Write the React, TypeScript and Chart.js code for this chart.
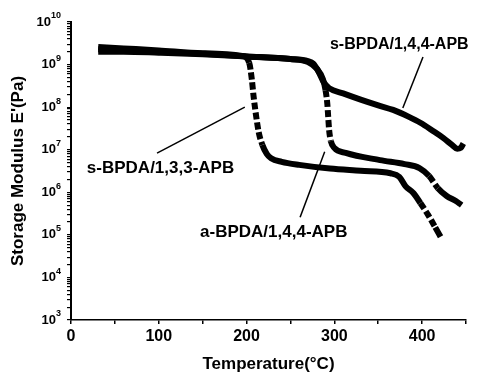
import { useEffect, useRef } from "react";
import { Chart, registerables } from "chart.js";

Chart.register(...registerables);

// s-BPDA/1,3,3-APB
const temps133 = [31, 60, 100, 150, 195, 203, 206, 208, 211, 214, 218, 223, 228, 240, 260, 295, 330, 364, 374, 381, 390, 398, 407, 415, 421];
const modulus133 = [2.6e9, 2.4e9, 2.15e9, 1.85e9, 1.6e9, 1.1e9, 4.5e8, 1.8e8, 6e7, 2.5e7, 1.3e7, 8e6, 6.3e6, 5.2e6, 4.4e6, 3.6e6, 3.2e6, 2.8e6, 2.3e6, 1.4e6, 9.6e5, 5.6e5, 2.9e5, 1.5e5, 9e4];

// a-BPDA/1,4,4-APB
const temps144a = [31, 60, 100, 150, 200, 250, 270, 280, 287, 290, 292, 293, 294, 296, 300, 313, 352, 380, 397, 408, 418, 428, 438, 445];
const modulus144a = [2.3e9, 2.2e9, 2.0e9, 1.8e9, 1.55e9, 1.35e9, 1.15e9, 8e8, 4.5e8, 2.5e8, 1.2e8, 6e7, 3e7, 1.6e7, 1.1e7, 8.4e6, 5.7e6, 4.6e6, 3.7e6, 2.4e6, 1.25e6, 8.2e5, 6.3e5, 5e5];

// s-BPDA/1,4,4-APB
const temps144s = [31, 60, 100, 150, 200, 250, 270, 276, 282, 288, 294, 310, 330, 350, 367, 385, 398, 412, 424, 434, 440, 444, 447];
const modulus144s = [2.0e9, 2.0e9, 1.9e9, 1.75e9, 1.55e9, 1.35e9, 1.2e9, 1.05e9, 6.8e8, 3.8e8, 2.8e8, 2.1e8, 1.5e8, 1.1e8, 8.6e7, 5.9e7, 4.3e7, 2.8e7, 1.9e7, 1.3e7, 1.05e7, 1.1e7, 1.4e7];

const xTickValues = [0, 50, 100, 150, 200, 250, 300, 350, 400, 450];
const xLabelValues = [0, 100, 200, 300, 400];
const yExponents = [3, 4, 5, 6, 7, 8, 9, 10];

const seriesNames = ["s-BPDA/1,3,3-APB", "a-BPDA/1,4,4-APB", "s-BPDA/1,4,4-APB"];

// annotation labels (data coordinates)
const annotations = [
  { text: "s-BPDA/1,4,4-APB", x: 374, y: 2.9e9, size: 16, from: [401, 1.5e9], to: [378, 9.5e7] },
  { text: "s-BPDA/1,3,3-APB", x: 102, y: 3.7e6, size: 17, from: [98, 8.3e6], to: [198, 1e8] },
  { text: "a-BPDA/1,4,4-APB", x: 231, y: 1.17e5, size: 17, from: [261, 2.6e5], to: [289, 9e6] },
];

const FONT = "'Liberation Sans', Arial, Helvetica, sans-serif";

function toPoints(xs: number[], ys: number[]) {
  return xs.map((x, i) => ({ x, y: ys[i] }));
}

export default function App() {
  const canvasRef = useRef<HTMLCanvasElement | null>(null);

  useEffect(() => {
    if (!canvasRef.current) return;

    const labelPlugin = {
      id: "customLabels",
      afterDraw(chart: any) {
        const { ctx, chartArea } = chart;
        const xs = chart.scales.x;
        const ys = chart.scales.y;
        ctx.save();
        ctx.fillStyle = "#000";
        // y tick labels 10^n
        for (const e of yExponents) {
          const py = ys.getPixelForValue(Math.pow(10, e));
          ctx.font = `bold 9px ${FONT}`;
          const expText = String(e);
          const w2 = ctx.measureText(expText).width;
          ctx.font = `bold 13px ${FONT}`;
          const w1 = ctx.measureText("10").width;
          const right = chartArea.left - 10;
          ctx.textBaseline = "middle";
          ctx.textAlign = "left";
          ctx.fillText("10", right - w2 - w1, py);
          ctx.font = `bold 9px ${FONT}`;
          ctx.fillText(expText, right - w2, py - 6);
        }
        // annotations
        ctx.strokeStyle = "#000";
        ctx.lineWidth = 1.5;
        for (const a of annotations) {
          ctx.beginPath();
          ctx.moveTo(xs.getPixelForValue(a.from[0]), ys.getPixelForValue(a.from[1]));
          ctx.lineTo(xs.getPixelForValue(a.to[0]), ys.getPixelForValue(a.to[1]));
          ctx.stroke();
          ctx.font = `bold ${a.size}px ${FONT}`;
          ctx.textAlign = "center";
          ctx.textBaseline = "middle";
          ctx.fillText(a.text, xs.getPixelForValue(a.x), ys.getPixelForValue(a.y));
        }
        ctx.restore();
      },
    };

    const steepDash = (c: any) => {
      const r = c.p0.parsed.y / c.p1.parsed.y;
      return r > 1.8 ? [7, 3] : undefined;
    };

    const mkDataset = (label: string, xs: number[], ys: number[]) => ({
      label,
      data: toPoints(xs, ys),
      borderColor: "#000",
      backgroundColor: "#000",
      borderWidth: 6,
      pointRadius: 0,
      cubicInterpolationMode: "monotone" as const,
      fill: false,
      segment: { borderDash: steepDash },
    });

    const chart = new Chart(canvasRef.current, {
      type: "line",
      data: {
        datasets: [
          mkDataset(seriesNames[0], temps133, modulus133),
          mkDataset(seriesNames[1], temps144a, modulus144a),
          mkDataset(seriesNames[2], temps144s, modulus144s),
        ],
      },
      options: {
        responsive: false,
        animation: false,
        layout: { padding: { left: 0, top: 22, right: 12, bottom: 0 } },
        plugins: { legend: { display: false }, tooltip: { enabled: false }, title: { display: false } },
        scales: {
          x: {
            type: "linear",
            min: 0,
            max: 450,
            afterBuildTicks: (s: any) => {
              s.ticks = xTickValues.map((v) => ({ value: v }));
            },
            afterFit: (s: any) => {
              s.height = 64;
            },
            grid: { display: true, drawOnChartArea: false, drawTicks: true, tickLength: 4, color: "#000", lineWidth: 1.5 },
            border: { display: true, color: "#000", width: 1.5 },
            ticks: {
              autoSkip: false,
              maxRotation: 0,
              padding: 3,
              color: "#000",
              font: { family: FONT, size: 16, weight: "bold" },
              callback: (v: any) => (xLabelValues.includes(Number(v)) ? String(v) : ""),
            },
            title: {
              display: true,
              text: "Temperature(°C)",
              color: "#000",
              font: { family: FONT, size: 17, weight: "bold" },
              padding: { top: 0, bottom: 9 },
            },
          },
          y: {
            type: "logarithmic",
            min: 1e3,
            max: 1e10,
            afterBuildTicks: (s: any) => {
              const t: any[] = [];
              for (const e of yExponents) {
                for (let m = 1; m <= 9; m++) {
                  const v = m * Math.pow(10, e);
                  if (v <= 1e10) t.push({ value: v, major: m === 1 });
                }
              }
              s.ticks = t;
            },
            afterFit: (s: any) => {
              s.width = 71;
            },
            grid: { display: true, drawOnChartArea: false, drawTicks: true, tickLength: 4, color: "#000", lineWidth: 1.2 },
            border: { display: true, color: "#000", width: 2 },
            ticks: { display: false },
            title: {
              display: true,
              text: "Storage Modulus E'(Pa)",
              color: "#000",
              font: { family: FONT, size: 17, weight: "bold" },
              padding: { top: 8, bottom: 0 },
            },
          },
        },
      },
      plugins: [labelPlugin],
    });

    return () => chart.destroy();
  }, []);

  return (
    <div style={{ position: "absolute", left: 0, top: 0, width: 478, height: 384, background: "#fff" }}>
      <canvas ref={canvasRef} width={478} height={384} />
    </div>
  );
}
